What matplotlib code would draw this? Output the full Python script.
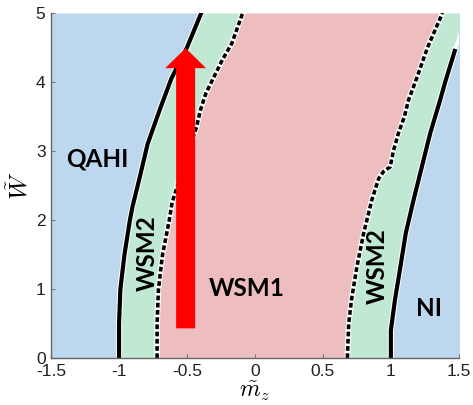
import numpy as np
import matplotlib
matplotlib.use('Agg')
from matplotlib import pyplot as plt

plt.rcParams['mathtext.fontset'] = 'cm'

# phase boundaries (W on y, m_z on x)
w_left_solid = [0, 0.5, 1, 1.5, 2, 2.2, 2.6, 3.1, 3.6, 4.05, 4.5, 5]
mz_left_solid = [-1.0, -1.0, -0.99, -0.96, -0.92, -0.90, -0.85, -0.79, -0.70, -0.615, -0.50, -0.395]

w_left_dash = [0, 0.5, 1, 1.5, 2, 2.25, 2.8, 3.35, 3.6, 3.84, 4.08, 4.32, 4.56, 5]
mz_left_dash = [-0.72, -0.72, -0.71, -0.68, -0.63, -0.61, -0.52, -0.43, -0.40, -0.36, -0.30, -0.24, -0.17, -0.09]

w_right_dash = [0, 0.5, 0.84, 1.32, 1.81, 2.29, 2.60, 2.70, 2.77, 3.01, 3.26, 3.50, 3.74, 4, 4.5, 5]
mz_right_dash = [0.68, 0.69, 0.71, 0.75, 0.80, 0.86, 0.91, 0.945, 0.995, 1.02, 1.056, 1.10, 1.13, 1.18, 1.27, 1.38]

w_right_solid = [0, 0.4, 0.84, 1.32, 1.81, 2.29, 2.77, 3.26, 3.74, 4, 4.45]
mz_right_solid = [1.0, 1.0, 1.03, 1.07, 1.11, 1.167, 1.228, 1.29, 1.363, 1.40, 1.47]

phase_names = ['QAHI', 'WSM2', 'WSM1', 'WSM2', 'NI']
phase_colors = ['#bdd7ee', '#c1e8d3', '#edbdbf', '#c1e8d3', '#bdd7ee']
# label spots (m_z, W, rotation)
label_pos = [(-1.16, 2.88, 0), (-0.79, 1.52, 90), (-0.06, 1.01, 0), (0.90, 1.33, 90), (1.28, 0.72, 0)]

xticks = [-1.5, -1, -0.5, 0, 0.5, 1, 1.5]
xticklabels = ['-1.5', '-1', '-0.5', '0', '0.5', '1', '1.5']
yticks = [0, 1, 2, 3, 4, 5]

fig = plt.figure(figsize=(4.73, 4.05), dpi=100)
ax = fig.add_axes([0.108, 0.116, 0.862, 0.852])

# common grid just for the fills
w = np.linspace(0, 5, 501)
b1 = np.interp(w, w_left_solid, mz_left_solid)
b2 = np.interp(w, w_left_dash, mz_left_dash)
b3 = np.interp(w, w_right_dash, mz_right_dash)
# right solid line stops at ~4.45, the green keeps going past the edge
b4 = np.interp(w, w_right_solid + [5], mz_right_solid + [1.56])

edges = [np.full_like(w, -1.5), b1, b2, b3, b4, np.full_like(w, 1.6)]
for i in range(5):
    ax.fill_betweenx(w, edges[i], edges[i + 1], color=phase_colors[i], lw=0)

# white gap at top right between green and blue
ax.plot([1.47, 1.56], [4.45, 5], color='white', lw=2.5, zorder=2)

# boundaries
for mz, ww in [(mz_left_solid, w_left_solid), (mz_right_solid, w_right_solid)]:
    ax.plot(mz, ww, color='white', lw=4.5, zorder=3)
    ax.plot(mz, ww, color='black', lw=3, zorder=4)
for mz, ww in [(mz_left_dash, w_left_dash), (mz_right_dash, w_right_dash)]:
    ax.plot(mz, ww, color='white', lw=4, zorder=3)
    ax.plot(mz, ww, color='black', lw=2.6, dashes=(1.3, 0.7), zorder=4)

# red arrow
ax.arrow(-0.51, 0.43, 0, 4.06, width=0.14, head_width=0.30, head_length=0.29,
         length_includes_head=True, color='red', lw=0, zorder=5)

for name, (x, y, rot) in zip(phase_names, label_pos):
    ax.text(x, y, name, ha='center', va='center', rotation=rot, family='Lato',
            fontsize=17.5, fontweight='bold', color='black', zorder=6)

ax.set_xlim(-1.5, 1.5)
ax.set_ylim(0, 5)
ax.set_xticks(xticks)
ax.set_xticklabels(xticklabels)
ax.set_yticks(yticks)
for t in ax.get_xticklabels() + ax.get_yticklabels():
    t.set_family('Liberation Sans')
    t.set_fontsize(12.5)
    t.set_color('#222222')
ax.tick_params(direction='in', length=3, color='#777777', pad=4)
for s in ['top', 'right']:
    ax.spines[s].set_visible(False)
for s in ['left', 'bottom']:
    ax.spines[s].set_color('#666666')
    ax.spines[s].set_linewidth(1)
    ax.spines[s].set_zorder(7)

ax.set_xlabel(r'$\tilde{m}_z$', fontsize=17, labelpad=0)
ax.set_ylabel(r'$\tilde{W}$', fontsize=18)
ax.yaxis.set_label_coords(-0.045, 0.5)

fig.savefig('out.png', dpi=100)
